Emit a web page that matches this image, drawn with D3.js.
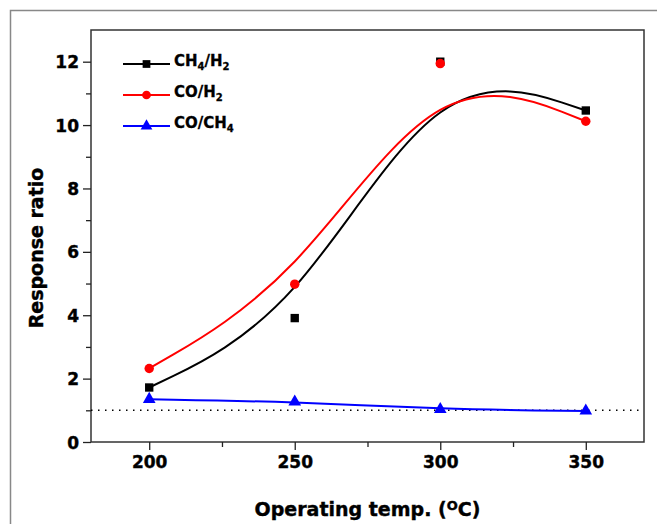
<!DOCTYPE html>
<html>
<head>
<meta charset="utf-8">
<script src="https://cdn.jsdelivr.net/npm/d3@7"></script>
<style>
  body { margin: 0; background: #fff; }
  text { font-family: "DejaVu Sans", sans-serif; font-weight: bold; }
</style>
</head>
<body>
<div id="chart"></div>
<script>
// Operating temperatures (x)
const temps = [200, 250, 300, 350];

// Response ratios
const ch4h2 = [1.72, 3.91, 12.0, 10.46];
const coh2 = [2.32, 4.98, 11.94, 10.12];
const coch4 = [1.35, 1.27, 1.03, 0.98];

const xTicks = [200, 250, 300, 350];
const yTicks = [0, 2, 4, 6, 8, 10, 12];
const refLevel = 1;

// Set margin, width, height
let margin = {top: 30, right: 13, bottom: 82, left: 91};
let width = 657 - margin.left - margin.right;
let height = 524 - margin.top - margin.bottom;

let root = d3.select("#chart").append("svg")
    .attr("width", 657)
    .attr("height", 524);

// outer frame of the figure
root.append("rect")
    .attr("x", 10.5).attr("y", 10.5)
    .attr("width", 700).attr("height", 600)
    .attr("fill", "none")
    .attr("stroke", "#888")
    .attr("stroke-width", 1.5);

let svg = root.append("g")
    .attr("transform", "translate(" + margin.left + "," + margin.top + ")");

// scales
let x = d3.scaleLinear().domain([180, 370]).range([0, width]);
let y = d3.scaleLinear().domain([0, 13]).range([height, 0]);

// plot box
svg.append("rect")
    .attr("width", width).attr("height", height)
    .attr("fill", "none")
    .attr("stroke", "#333")
    .attr("stroke-width", 1.5);

// minor ticks
svg.append("g")
    .attr("transform", `translate(0,${height})`)
    .call(d3.axisBottom(x).tickValues([225, 275, 325]).tickSize(5).tickFormat(""))
    .call(g => g.select(".domain").remove());
svg.append("g")
    .call(d3.axisLeft(y).tickValues([1, 3, 5, 7, 9, 11]).tickSize(5).tickFormat(""))
    .call(g => g.select(".domain").remove());

// major ticks + labels
let xAxis = svg.append("g")
    .attr("transform", `translate(0,${height})`)
    .call(d3.axisBottom(x).tickValues(xTicks).tickSize(8).tickPadding(6));
xAxis.select(".domain").remove();
xAxis.selectAll("text").style("font-size", "17px").attr("fill", "#000")
    .attr("stroke", "#000").attr("stroke-width", 0.4);

let yAxis = svg.append("g")
    .call(d3.axisLeft(y).tickValues(yTicks).tickSize(8).tickPadding(4));
yAxis.select(".domain").remove();
yAxis.selectAll("text").style("font-size", "17px").attr("fill", "#000").attr("dy", "0.36em")
    .attr("stroke", "#000").attr("stroke-width", 0.4);

svg.selectAll(".tick line").attr("stroke", "#222").attr("stroke-width", 1.3);

// dotted reference line
svg.append("line")
    .attr("x1", 0).attr("x2", width)
    .attr("y1", y(refLevel)).attr("y2", y(refLevel))
    .attr("stroke", "#000")
    .attr("stroke-width", 1.5)
    .attr("stroke-dasharray", "1.5,5.5");

const series = [
    {name: "CH4/H2", values: ch4h2, color: "#000000", symbol: d3.symbolSquare},
    {name: "CO/H2", values: coh2, color: "#ff0000", symbol: d3.symbolCircle},
    {name: "CO/CH4", values: coch4, color: "#0000ff", symbol: d3.symbolTriangle}
];

// B-spline curves
let line = d3.line()
    .x((d, i) => x(temps[i]))
    .y(d => y(d))
    .curve(d3.curveBasis);

series.forEach(s => {
    svg.append("path")
        .datum(s.values)
        .attr("d", line)
        .attr("fill", "none")
        .attr("stroke", s.color)
        .attr("stroke-width", 2);
});

// markers
let sym = d3.symbol().size(70);
series.forEach(s => {
    svg.selectAll(null)
        .data(s.values)
        .enter()
        .append("path")
        .attr("d", sym.type(s.symbol)())
        .attr("transform", (d, i) => `translate(${x(temps[i])},${y(d)})`)
        .attr("fill", s.color);
});

// legend
let legend = svg.append("g").attr("transform", "translate(32,34)");
const legendLabels = [
    [["CH", 0], ["4", 1], ["/H", 0], ["2", 1]],
    [["CO/H", 0], ["2", 1]],
    [["CO/CH", 0], ["4", 1]]
];
series.forEach((s, i) => {
    let row = legend.append("g").attr("transform", `translate(0,${i * 31})`);
    row.append("line")
        .attr("x1", 0).attr("x2", 47)
        .attr("stroke", s.color).attr("stroke-width", 2);
    row.append("path")
        .attr("d", d3.symbol().type(s.symbol).size(60)())
        .attr("transform", "translate(23.5,0)")
        .attr("fill", s.color);
    let t = row.append("text")
        .attr("x", 51).attr("y", 6)
        .style("font-size", "15px")
        .attr("fill", "#000")
        .attr("stroke", "#000").attr("stroke-width", 0.3);
    legendLabels[i].forEach(p => {
        t.append("tspan")
            .attr("dy", p[1] ? 4 : (t.selectAll("tspan").size() ? -4 : 0))
            .style("font-size", p[1] ? "10px" : "15px")
            .text(p[0]);
    });
});

// axis titles
let xt = svg.append("text")
    .attr("x", width * 0.5)
    .attr("y", height + 74)
    .attr("text-anchor", "middle")
    .style("font-size", "19px")
    .attr("fill", "#000")
    .attr("stroke", "#000").attr("stroke-width", 0.4);
xt.append("tspan").text("Operating temp. (");
xt.append("tspan").attr("dy", -6).style("font-size", "13px").text("O");
xt.append("tspan").attr("dy", 6).text("C)");

svg.append("text")
    .attr("transform", `translate(${-48},${218}) rotate(-90)`)
    .attr("text-anchor", "middle")
    .style("font-size", "19px")
    .attr("fill", "#000")
    .attr("stroke", "#000").attr("stroke-width", 0.4)
    .text("Response ratio");
</script>
</body>
</html>
